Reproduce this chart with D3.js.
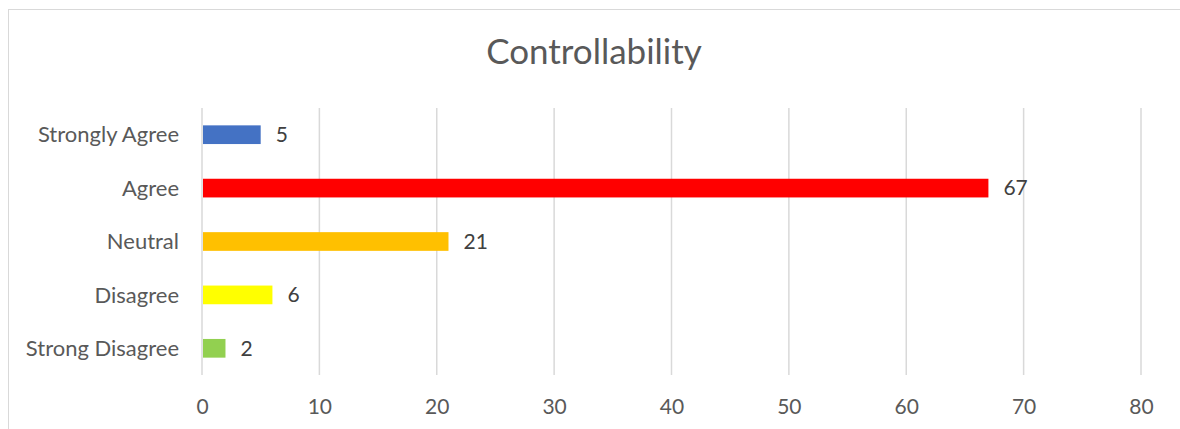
<!DOCTYPE html>
<html>
<head>
<meta charset="utf-8">
<script src="https://cdn.jsdelivr.net/npm/d3@7"></script>
<style>
  html, body { margin: 0; padding: 0; background: #fff; }
  svg { display: block; }
</style>
</head>
<body>
<div id="chart"></div>
<script>
// Survey responses for "Controllability"
const categories = ["Strongly Agree", "Agree", "Neutral", "Disagree", "Strong Disagree"];
const counts = [5, 67, 21, 6, 2];
const barColors = ["#4472C4", "#FF0000", "#FFC000", "#FFFF00", "#92D050"];
const tickValues = [0, 10, 20, 30, 40, 50, 60, 70, 80];
const chartTitle = "Controllability";

const W = 1180, H = 429;
const font = "Lato, 'Open Sans', sans-serif";
const textColor = "#595959";
const gridColor = "#D9D9D9";

const svg = d3.select("#chart").append("svg")
  .attr("width", W).attr("height", H);

// chart frame (runs off the right and bottom edges)
svg.append("rect")
  .attr("x", 8.5).attr("y", 9.5)
  .attr("width", W + 20).attr("height", H + 20)
  .attr("fill", "#fff").attr("stroke", gridColor).attr("stroke-width", 1);

const plot = { left: 202, right: 1141, top: 108, bottom: 375 };

const x = d3.scaleLinear().domain([0, 80]).range([plot.left, plot.right]);
const y = d3.scaleBand().domain(categories).range([plot.top, plot.bottom]).paddingInner(0.65).paddingOuter(0.325);

// title
svg.append("text")
  .attr("x", 594).attr("y", 64)
  .attr("text-anchor", "middle")
  .attr("font-family", font).attr("font-size", 35)
  .attr("fill", textColor)
  .text(chartTitle);

// vertical gridlines
svg.append("g").selectAll("line").data(tickValues).join("line")
  .attr("x1", d => x(d)).attr("x2", d => x(d))
  .attr("y1", plot.top).attr("y2", plot.bottom)
  .attr("stroke", gridColor).attr("stroke-width", 1.5);

// bottom axis labels
const xAxis = d3.axisBottom(x).tickValues(tickValues).tickSize(0).tickPadding(0);
const gx = svg.append("g").attr("transform", `translate(0,${plot.bottom + 39})`).call(xAxis);
gx.select(".domain").remove();
gx.selectAll("text")
  .attr("font-family", font).attr("font-size", 21)
  .attr("fill", textColor).attr("dy", 0);

// category labels
const yAxis = d3.axisLeft(y).tickSize(0).tickPadding(0);
const gy = svg.append("g").attr("transform", `translate(${plot.left - 23},0)`).call(yAxis);
gy.select(".domain").remove();
gy.selectAll("text")
  .attr("font-family", font).attr("font-size", 22)
  .attr("fill", textColor).attr("dy", "0.35em");

// bars
const rows = categories.map((c, i) => ({ cat: c, value: counts[i], color: barColors[i] }));
svg.append("g").selectAll("rect").data(rows).join("rect")
  .attr("x", x(0) + 1)
  .attr("y", d => y(d.cat))
  .attr("width", d => x(d.value) - x(0) - 1)
  .attr("height", y.bandwidth())
  .attr("fill", d => d.color);

// value labels
svg.append("g").selectAll("text").data(rows).join("text")
  .attr("x", d => x(d.value) + 15)
  .attr("y", d => y(d.cat) + y.bandwidth() / 2)
  .attr("dy", "0.35em")
  .attr("font-family", font).attr("font-size", 21)
  .attr("fill", "#404040")
  .text(d => d.value);
</script>
</body>
</html>
